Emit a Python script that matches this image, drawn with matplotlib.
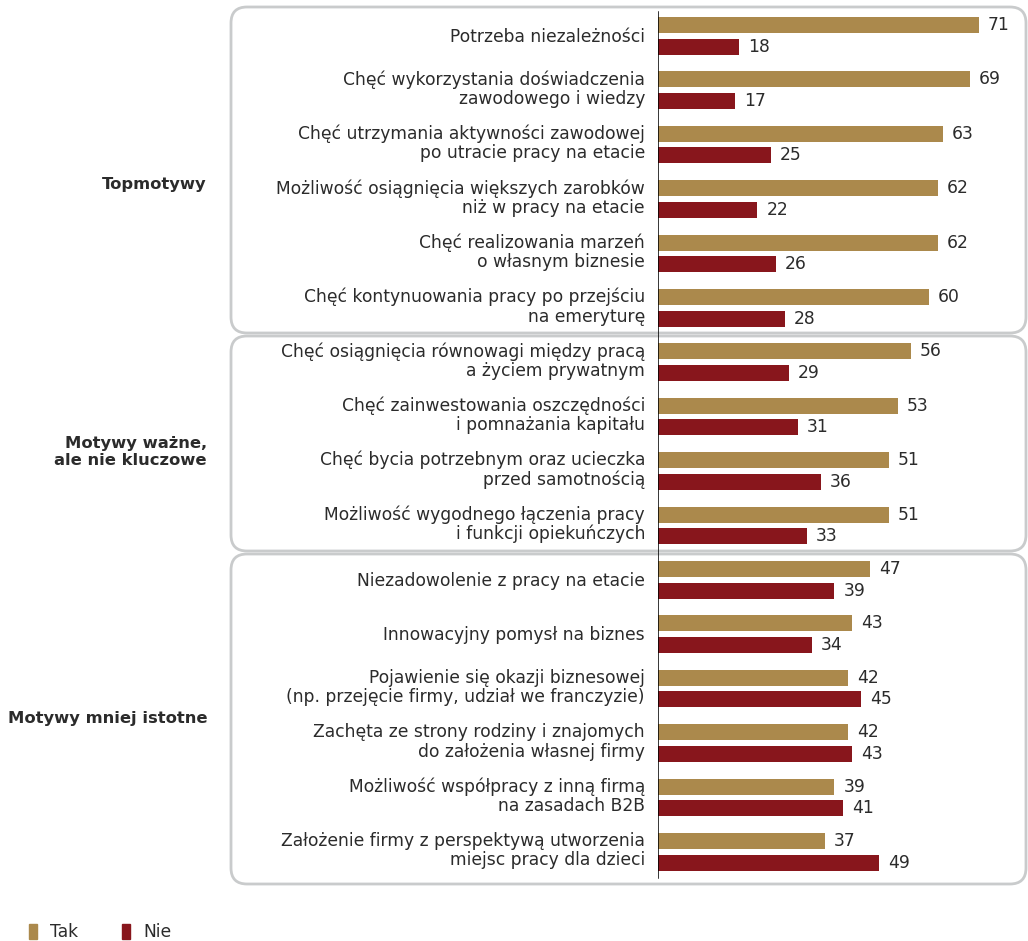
import matplotlib
matplotlib.use("Agg")
import matplotlib.pyplot as plt
from matplotlib.patches import FancyBboxPatch, Rectangle

categories = [
    "Potrzeba niezależności",
    "Chęć wykorzystania doświadczenia\nzawodowego i wiedzy",
    "Chęć utrzymania aktywności zawodowej\npo utracie pracy na etacie",
    "Możliwość osiągnięcia większych zarobków\nniż w pracy na etacie",
    "Chęć realizowania marzeń\no własnym biznesie",
    "Chęć kontynuowania pracy po przejściu\nna emeryturę",
    "Chęć osiągnięcia równowagi między pracą\na życiem prywatnym",
    "Chęć zainwestowania oszczędności\ni pomnażania kapitału",
    "Chęć bycia potrzebnym oraz ucieczka\nprzed samotnością",
    "Możliwość wygodnego łączenia pracy\ni funkcji opiekuńczych",
    "Niezadowolenie z pracy na etacie",
    "Innowacyjny pomysł na biznes",
    "Pojawienie się okazji biznesowej\n(np. przejęcie firmy, udział we franczyzie)",
    "Zachęta ze strony rodziny i znajomych\ndo założenia własnej firmy",
    "Możliwość współpracy z inną firmą\nna zasadach B2B",
    "Założenie firmy z perspektywą utworzenia\nmiejsc pracy dla dzieci",
]
tak = [71, 69, 63, 62, 62, 60, 56, 53, 51, 51, 47, 43, 42, 42, 39, 37]
nie = [18, 17, 25, 22, 26, 28, 29, 31, 36, 33, 39, 34, 45, 43, 41, 49]
groups = ["Topmotywy", "Motywy ważne,\nale nie kluczowe", "Motywy mniej istotne"]
group_sizes = [6, 4, 6]
series = ["Tak", "Nie"]
colors = ["#ab894c", "#88161c"]

FONT = "DejaVu Sans"
plt.rcParams["font.family"] = [FONT]
TXT = "#2b2b2b"
FS = 12.3

W, H = 1028, 941
PX_PER_UNIT = 4.52
X0 = 658
ROW0, ROWSTEP, GAP, BH = 25, 54.4, 21.5, 16

fig = plt.figure(figsize=(W / 100, H / 100), dpi=100)
bg = fig.add_axes([0, 0, 1, 1])
bg.set_xlim(0, W)
bg.set_ylim(H, 0)
bg.axis("off")

ax = fig.add_axes([X0 / W, 0, (W - X0) / W, 1], zorder=2)
ax.set_xlim(0, (W - X0) / PX_PER_UNIT)
ax.set_ylim(H, 0)
ax.axis("off")
ax.patch.set_visible(False)

n = len(categories)
y_tak = [ROW0 + i * ROWSTEP for i in range(n)]
y_nie = [y + GAP for y in y_tak]

ax.barh(y_tak, tak, height=BH, color=colors[0], label=series[0])
ax.barh(y_nie, nie, height=BH, color=colors[1], label=series[1])
for y, v in zip(y_tak, tak):
    ax.text(v + 9 / PX_PER_UNIT, y, str(v), va="center", ha="left", fontsize=FS, color=TXT)
for y, v in zip(y_nie, nie):
    ax.text(v + 9 / PX_PER_UNIT, y, str(v), va="center", ha="left", fontsize=FS, color=TXT)
ax.plot([0, 0], [12, 878], color="black", lw=1.1)

for i, lab in enumerate(categories):
    yc = (y_tak[i] + y_nie[i]) / 2
    off = -1 if "\n" in lab else 1
    bg.text(645, yc + off, lab, ha="right", va="center", multialignment="right",
            fontsize=FS, color=TXT, linespacing=1.08)

# group boxes
box_y = [(7, 333), (336, 551), (554, 884)]
label_y = [184, 452, 718]
for (y0, y1), g, ly in zip(box_y, groups, label_y):
    bg.add_patch(FancyBboxPatch((231, y0), 1026 - 231, y1 - y0,
                                boxstyle="round,pad=0,rounding_size=16",
                                fc="none", ec="#c9cbcc", lw=2))
    bg.text(207, ly, g, ha="right", va="center", multialignment="right",
            fontsize=FS - 0.5, fontweight="bold", color=TXT, linespacing=1.1)

# legend
for xm, xt, lab, c in [(29, 50, series[0], colors[0]), (122, 143, series[1], colors[1])]:
    bg.add_patch(Rectangle((xm, 924), 8, 15, color=c))
    bg.text(xt, 932, lab, ha="left", va="center", fontsize=FS, color=TXT)

fig.savefig("out.png", dpi=100, facecolor="white")
